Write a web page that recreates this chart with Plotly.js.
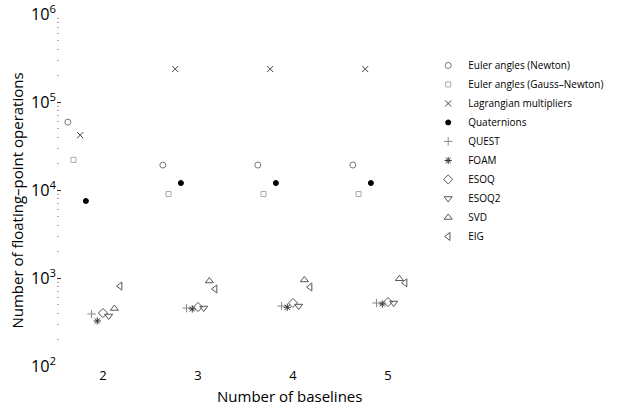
<!DOCTYPE html>
<html>
<head>
<meta charset="utf-8">
<script src="https://cdn.plot.ly/plotly-3.0.1.min.js"></script>
<style>html,body{margin:0;padding:0;background:#fff;}#chart{width:621px;height:408px;}</style>
</head>
<body>
<div id="chart"></div>
<script>
const baselines = [2, 3, 4, 5];
const methodNames = ["Euler angles (Newton)", "Euler angles (Gauss\u2013Newton)", "Lagrangian multipliers",
  "Quaternions", "QUEST", "FOAM", "ESOQ", "ESOQ2", "SVD", "EIG"];
const eulerNewton = [59000, 19200, 19200, 19200];
const eulerGaussNewton = [22000, 9000, 9000, 9000];
const lagrangian = [42000, 237000, 237000, 237000];
const quaternions = [7500, 12000, 12000, 12000];
const quest = [390, 456, 480, 520];
const foam = [325, 445, 465, 507];
const esoq = [400, 468, 520, 533];
const esoq2 = [370, 456, 480, 520];
const svd = [450, 925, 950, 980];
const eig = [810, 750, 790, 880];
const seriesValues = [eulerNewton, eulerGaussNewton, lagrangian, quaternions, quest, foam, esoq, esoq2, svd, eig];

const offsets = [-0.37, -0.31, -0.24, -0.18, -0.12, -0.06, 0, 0.06, 0.12, 0.18];
const styles = [
  {symbol: "circle-open", color: "#777", size: 6},
  {symbol: "square-open", color: "#aaa", size: 5},
  {symbol: "x-thin-open", color: "#444", size: 6},
  {symbol: "circle", color: "#000", size: 5},
  {symbol: "cross-thin-open", color: "#888", size: 6},
  {symbol: "asterisk-open", color: "#333", size: 6},
  {symbol: "diamond-open", color: "#555", size: 7},
  {symbol: "triangle-down-open", color: "#555", size: 7},
  {symbol: "triangle-up-open", color: "#555", size: 7},
  {symbol: "triangle-left-open", color: "#555", size: 7}
];

const traces = methodNames.map((name, i) => ({
  type: "scatter",
  mode: "markers",
  name: name,
  x: baselines.map(b => b + offsets[i]),
  y: seriesValues[i],
  marker: {symbol: styles[i].symbol, size: styles[i].size, color: styles[i].color,
           line: {color: styles[i].color, width: 1}},
  cliponaxis: false
}));

const font = "Open Sans, Noto Sans, sans-serif";
const layout = {
  width: 621, height: 408,
  margin: {l: 57, r: 100, t: 14, b: 42},
  paper_bgcolor: "#fff", plot_bgcolor: "#fff",
  font: {family: font, color: "#000"},
  showlegend: true,
  legend: {x: 0.80, y: 0.895, xanchor: "left", yanchor: "top", xref: "paper", yref: "paper",
           font: {size: 10, family: font}, bgcolor: "rgba(0,0,0,0)",
           tracegroupgap: 0, itemwidth: 30},
  xaxis: {
    range: [1.516, 6.4], tickvals: baselines, ticktext: baselines.map(String),
    showline: false, showgrid: false, zeroline: false, ticks: "",
    tickfont: {size: 13, family: font}
  },
  yaxis: {
    type: "log", range: [2, 6], dtick: 1, exponentformat: "power",
    showline: false, showgrid: false, zeroline: false,
    ticks: "inside", ticklen: 4, tickcolor: "#333", tickwidth: 1,
    minor: {ticks: "inside", ticklen: 2, tickcolor: "#aaa", dtick: "D1", showgrid: false},
    tickfont: {size: 13, family: font}
  },
  annotations: [
    {text: "Number of baselines", xref: "paper", yref: "paper", x: 0.5, y: 0, yshift: -42,
     xanchor: "center", yanchor: "bottom", showarrow: false, font: {size: 15, family: font}},
    {text: "Number of floating\u2013point operations", xref: "paper", yref: "paper", x: 0, xshift: -40, y: 0.47,
     xanchor: "center", yanchor: "middle", textangle: -90, showarrow: false, font: {size: 15, family: font}}
  ]
};
Plotly.newPlot("chart", traces, layout, {displayModeBar: false, staticPlot: true});
</script>
</body>
</html>
